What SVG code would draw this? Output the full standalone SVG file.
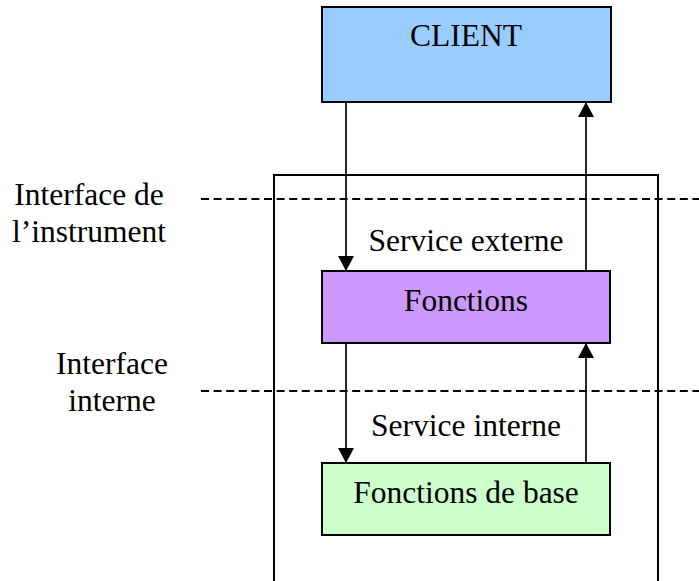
<svg xmlns="http://www.w3.org/2000/svg" width="699" height="581" viewBox="0 0 699 581">
<defs>
<style>
.box{stroke:#000;stroke-width:2}
.t{font-family:"Liberation Serif","Times New Roman",serif;font-size:31.5px;fill:#000;text-anchor:middle}
.conn{stroke:#000;stroke-width:1.7;fill:none}
.dash{stroke:#000;stroke-width:2;stroke-dasharray:8 4.6;fill:none}
</style>
<marker id="ah" markerUnits="userSpaceOnUse" markerWidth="16" markerHeight="16" viewBox="0 0 16 16" refX="15" refY="8" orient="auto">
<path d="M0,0 L15,8 L0,16 Z" fill="#000"/>
</marker>
</defs>
<rect width="699" height="581" fill="#fff"/>
<g id="instrument">
<path class="box" d="M274,581 V175 H658 V581" fill="none"/>
</g>
<g id="interfaces">
<line class="dash" x1="201" y1="199" x2="699" y2="199"/>
<line class="dash" x1="201" y1="391" x2="699" y2="391"/>
<text class="t" x="89" y="205">Interface de</text>
<text class="t" x="89" y="242">l’instrument</text>
<text class="t" x="112" y="374">Interface</text>
<text class="t" x="112" y="411">interne</text>
</g>
<g id="client">
<rect class="box" x="322" y="7" width="289" height="95" fill="#99CCFF"/>
<text class="t" x="466" y="46">CLIENT</text>
</g>
<g id="fonctions">
<rect class="box" x="322" y="271" width="288" height="72" fill="#CC99FF"/>
<text class="t" x="466" y="311">Fonctions</text>
</g>
<g id="fonctions-base">
<rect class="box" x="322" y="463" width="288" height="72" fill="#CCFFCC"/>
<text class="t" x="466" y="503">Fonctions de base</text>
</g>
<g id="connectors">
<line class="conn" x1="346" y1="103" x2="346" y2="271" marker-end="url(#ah)"/>
<line class="conn" x1="586" y1="270" x2="586" y2="102" marker-end="url(#ah)"/>
<line class="conn" x1="346" y1="344" x2="346" y2="463" marker-end="url(#ah)"/>
<line class="conn" x1="586" y1="462" x2="586" y2="343" marker-end="url(#ah)"/>
<text class="t" x="466" y="251">Service externe</text>
<text class="t" x="466" y="436">Service interne</text>
</g>
</svg>
